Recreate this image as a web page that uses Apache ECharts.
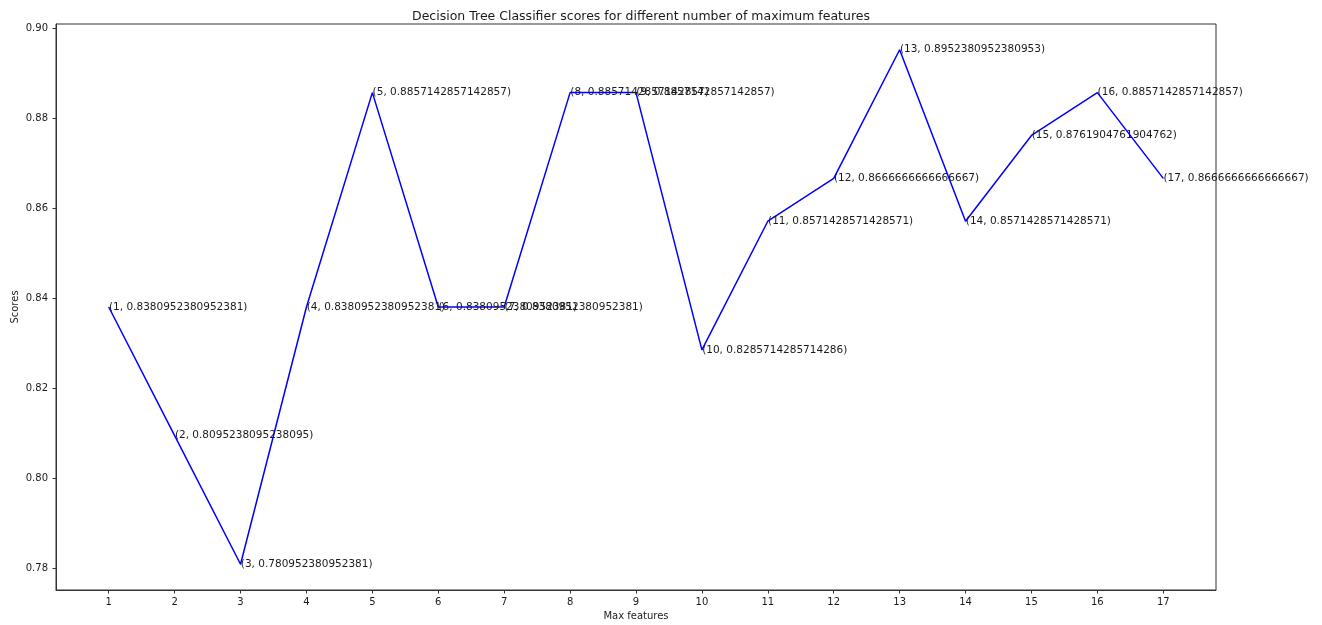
<!DOCTYPE html>
<html>
<head>
<meta charset="utf-8">
<script src="https://cdn.jsdelivr.net/npm/echarts@6/dist/echarts.min.js"></script>
<style>html,body{margin:0;padding:0;background:#fff;}#c{width:1322px;height:625px;}</style>
</head>
<body>
<div id="c"></div>
<script>
var maxFeatures = [1,2,3,4,5,6,7,8,9,10,11,12,13,14,15,16,17];
var scoreTexts = [
  "0.8380952380952381","0.8095238095238095","0.780952380952381","0.8380952380952381",
  "0.8857142857142857","0.8380952380952381","0.8380952380952381","0.8857142857142857",
  "0.8857142857142857","0.8285714285714286","0.8571428571428571","0.8666666666666667",
  "0.8952380952380953","0.8571428571428571","0.8761904761904762","0.8857142857142857",
  "0.8666666666666667"
];
var scores = scoreTexts.map(Number);
var yTicks = [0.78,0.80,0.82,0.84,0.86,0.88,0.90];
var xTicks = maxFeatures;

var chart = echarts.init(document.getElementById('c'), null, {renderer:'canvas'});
var font = 'DejaVu Sans';
var txt = '#1a1a1a';
chart.setOption({
  animation: false,
  backgroundColor: '#fff',
  textStyle: {fontFamily: font},
  title: {
    text: 'Decision Tree Classifier scores for different number of maximum features',
    left: 636, top: 5, textAlign: 'center',
    textStyle: {fontFamily: font, fontSize: 12.5, fontWeight: 'normal', color: txt}
  },
  grid: {left: 56, right: 106, top: 24, bottom: 35, outerBoundsMode: 'none', containLabel: false,
    show: true, borderColor: '#333', borderWidth: 1, backgroundColor: 'transparent'},
  xAxis: {
    type: 'value', min: 0.2, max: 17.8,
    name: 'Max features', nameLocation: 'middle', nameGap: 21, nameMoveOverlap: false,
    nameTextStyle: {fontFamily: font, fontSize: 10, color: txt},
    axisLine: {show: true, onZero: false, lineStyle: {color: '#333', width: 1}},
    axisTick: {show: true, inside: false, length: 3.5, customValues: xTicks, lineStyle: {color: '#333'}},
    axisLabel: {customValues: xTicks, margin: 7, fontFamily: font, fontSize: 10, color: txt},
    splitLine: {show: false}
  },
  yAxis: {
    type: 'value', min: 0.77524, max: 0.90095,
    name: 'Scores', nameLocation: 'middle', nameGap: 36, nameRotate: 90, nameMoveOverlap: false,
    nameTextStyle: {fontFamily: font, fontSize: 10, color: txt},
    axisLine: {show: true, onZero: false, lineStyle: {color: '#333', width: 1}},
    axisTick: {show: true, inside: false, length: 3.5, customValues: yTicks, lineStyle: {color: '#333'}},
    axisLabel: {customValues: yTicks, margin: 8, fontFamily: font, fontSize: 10, color: txt,
      formatter: function(v){ return v.toFixed(2); }},
    splitLine: {show: false}
  },
  series: [{
    type: 'line',
    data: maxFeatures.map(function(x,i){ return [x, scores[i]]; }),
    symbol: 'circle', symbolSize: 0.5, showSymbol: true, showAllSymbol: true,
    itemStyle: {color: '#0000ff'},
    lineStyle: {color: '#0000ff', width: 1.5},
    clip: false,
    label: {
      show: true, position: 'right', distance: 0, offset: [-1.5, -3.5],
      fontFamily: font, fontSize: 10.5, color: txt,
      formatter: function(p){ return '(' + maxFeatures[p.dataIndex] + ', ' + scoreTexts[p.dataIndex] + ')'; }
    },
    labelLayout: {hideOverlap: false}
  }]
});
</script>
</body>
</html>
